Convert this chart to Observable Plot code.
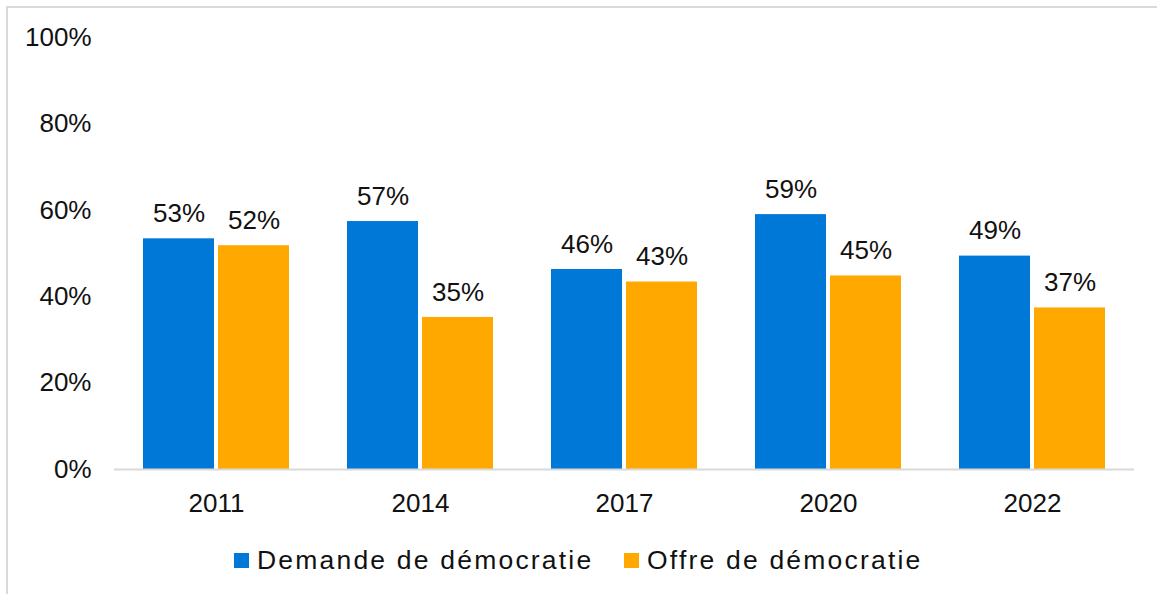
<!DOCTYPE html>
<html>
<head>
<meta charset="utf-8">
<script src="https://cdn.jsdelivr.net/npm/d3@7"></script>
<script src="https://cdn.jsdelivr.net/npm/@observablehq/plot@0.6"></script>
<style>
  html, body { margin: 0; padding: 0; background: #fff; }
  #wrap { position: relative; width: 1157px; height: 594px; overflow: hidden; font-family: "Liberation Sans", Arial, sans-serif; }
  #frame { position: absolute; left: 6px; top: 6px; width: 1200px; height: 700px; border-left: 2px solid #d9d9d9; border-top: 2px solid #d9d9d9; pointer-events: none; z-index: 5; }
  #chart { position: absolute; left: 0; top: 0; }
  .sw { position: absolute; width: 15px; height: 15px; top: 553px; }
  .lt { position: absolute; top: 547px; font-size: 26.5px; line-height: 26.5px; letter-spacing: 2.2px; color: #111; white-space: nowrap; }
</style>
</head>
<body>
<div id="wrap">
  <div id="chart"></div>
  <div id="frame"></div>
  <div id="legend"></div>
</div>
<script>
const years = ["2011", "2014", "2017", "2020", "2022"];
const seriesNames = ["Demande de démocratie", "Offre de démocratie"];
const demande = [53.4, 57.4, 46.3, 59.0, 49.4];
const offre = [51.8, 35.2, 43.4, 44.8, 37.4];
const colors = ["#0078d7", "#ffa900"];
const yTicks = [0, 20, 40, 60, 80, 100];

const rows = [];
years.forEach((yr, i) => {
  rows.push({year: yr, series: seriesNames[0], value: demande[i]});
  rows.push({year: yr, series: seriesNames[1], value: offre[i]});
});

const W = 1157, H = 530;
const chart = Plot.plot({
  width: W,
  height: H,
  marginLeft: 112,
  marginRight: 22,
  marginTop: 37,
  marginBottom: H - 469,
  style: {fontFamily: "'Liberation Sans', Arial, sans-serif", fontSize: "26px", color: "#111", background: "transparent"},
  fx: {domain: years, paddingInner: 0, paddingOuter: 0, label: null, axis: "bottom", tickSize: 0, tickPadding: 24},
  x: {domain: seriesNames, paddingInner: 0.0526, paddingOuter: 0.372, axis: null},
  y: {domain: [0, 100], ticks: yTicks, tickFormat: d => d + "%", label: null, tickSize: 0, tickPadding: 23},
  color: {domain: seriesNames, range: colors},
  marks: [
    Plot.axisY({ticks: yTicks, tickFormat: d => d + "%", tickSize: 0, tickPadding: 23, label: null, fontSize: 26}),
    Plot.barY(rows, {fx: "year", x: "series", y: "value", fill: "series"}),
    Plot.ruleY([0], {stroke: "#d9d9d9", strokeWidth: 2}),
    Plot.text(rows, {fx: "year", x: "series", y: "value", text: d => Math.round(d.value) + "%", dy: -25, fontSize: 26, fill: "#111"})
  ]
});
document.getElementById("chart").appendChild(chart);

const legend = document.getElementById("legend");
const swX = [234, 624];
seriesNames.forEach((name, i) => {
  const sw = document.createElement("span");
  sw.className = "sw";
  sw.style.left = swX[i] + "px";
  sw.style.background = colors[i];
  legend.appendChild(sw);
  const t = document.createElement("span");
  t.className = "lt";
  t.style.left = (swX[i] + 23) + "px";
  t.textContent = name;
  legend.appendChild(t);
});
</script>
</body>
</html>
